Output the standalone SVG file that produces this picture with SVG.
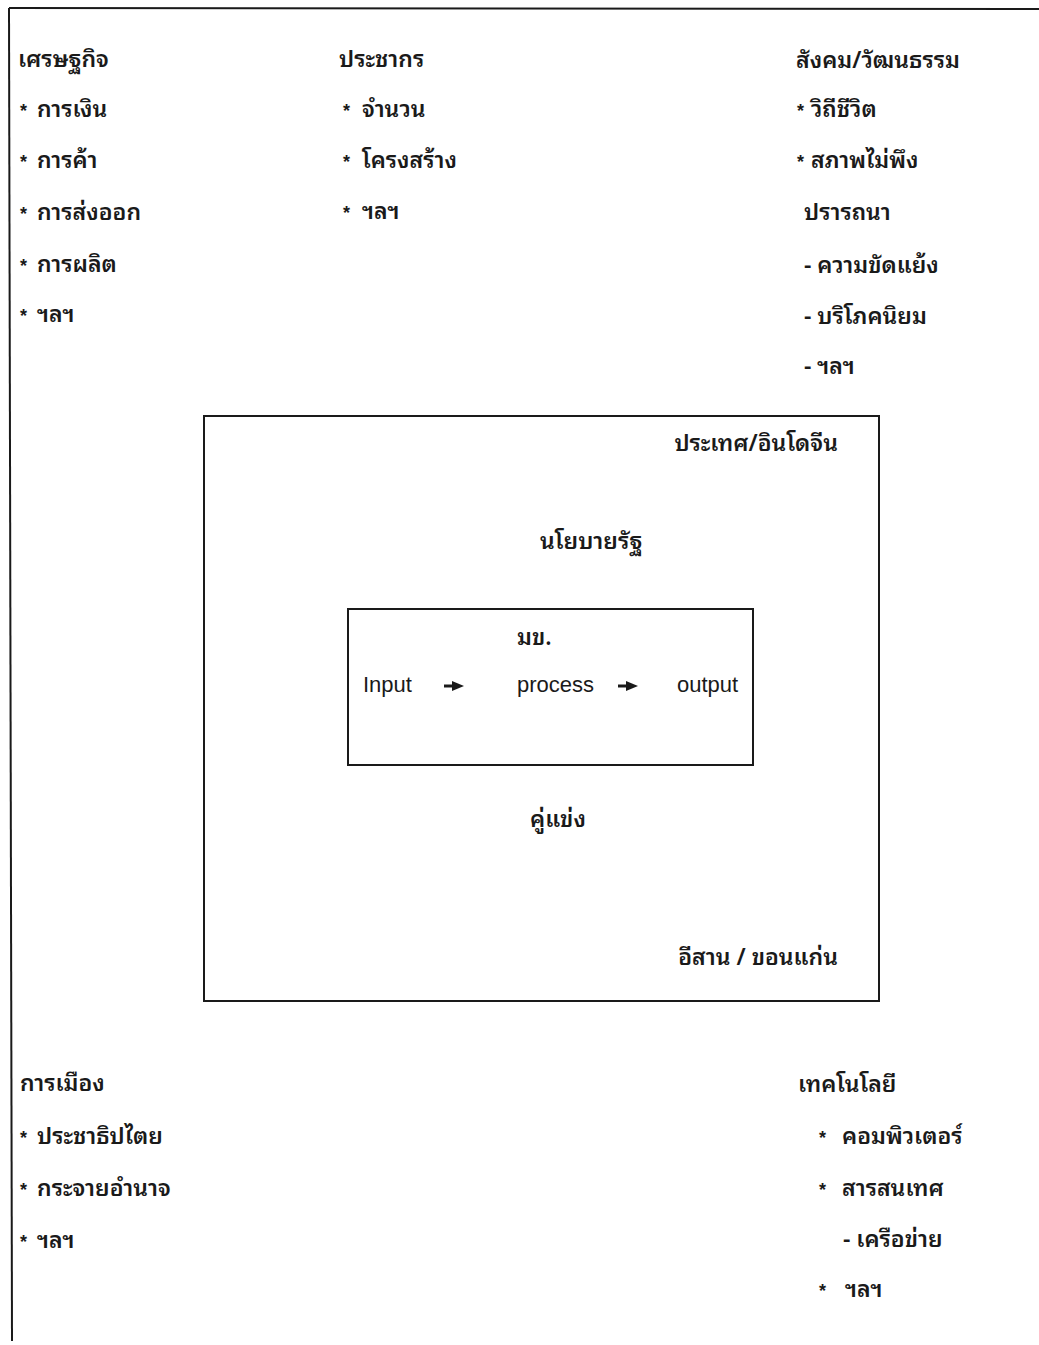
<svg xmlns="http://www.w3.org/2000/svg" width="1039" height="1345" viewBox="0 0 1039 1345">
<defs>
<style>
.t{font-family:"Noto Sans Thai Looped","Noto Serif Thai","Tlwg Typo","Garuda","Loma","Noto Sans Thai","Noto Sans",sans-serif;font-size:23px;font-weight:600;fill:#1a1a1a}
.b{font-family:"Liberation Sans",sans-serif;font-size:18px;font-weight:bold;fill:#1a1a1a}
.e{font-family:"Liberation Sans",Arial,sans-serif;font-size:22px;fill:#1a1a1a}
.ln{stroke:#1a1a1a;stroke-width:2;fill:none}
.box{stroke:#1a1a1a;stroke-width:2;fill:none}
.ar{stroke:#1a1a1a;stroke-width:3;fill:none}
</style>
<marker id="ah" markerWidth="12" markerHeight="12" refX="1" refY="6" orient="auto" markerUnits="userSpaceOnUse">
<path d="M0,1 L12,6 L0,11 Z" fill="#1a1a1a"/>
</marker>
</defs>
<rect x="0" y="0" width="1039" height="1345" fill="#fff"/>
<g id="frame">
<line class="ln" x1="9" y1="8" x2="1039" y2="9"/>
<line class="ln" x1="9" y1="8" x2="12" y2="1341"/>
</g>
<g id="economy">
<text class="t" x="18" y="67">เศรษฐกิจ</text>
<text class="b" x="20" y="117">*</text><text class="t" x="37" y="117">การเงิน</text>
<text class="b" x="20" y="168">*</text><text class="t" x="37" y="168">การค้า</text>
<text class="b" x="20" y="220">*</text><text class="t" x="37" y="220">การส่งออก</text>
<text class="b" x="20" y="272">*</text><text class="t" x="37" y="272">การผลิต</text>
<text class="b" x="20" y="322">*</text><text class="t" x="37" y="322">ฯลฯ</text>
</g>
<g id="population">
<text class="t" x="339" y="67">ประชากร</text>
<text class="b" x="343" y="117">*</text><text class="t" x="362" y="117">จำนวน</text>
<text class="b" x="343" y="168">*</text><text class="t" x="362" y="168">โครงสร้าง</text>
<text class="b" x="343" y="219">*</text><text class="t" x="362" y="219">ฯลฯ</text>
</g>
<g id="society">
<text class="t" x="796" y="68">สังคม/วัฒนธรรม</text>
<text class="b" x="797" y="117">*</text><text class="t" x="811" y="117">วิถีชีวิต</text>
<text class="b" x="797" y="168">*</text><text class="t" x="811" y="168">สภาพไม่พึง</text>
<text class="t" x="804" y="220">ปรารถนา</text>
<text class="t" x="804" y="273">- ความขัดแย้ง</text>
<text class="t" x="804" y="324">- บริโภคนิยม</text>
<text class="t" x="804" y="374">- ฯลฯ</text>
</g>
<g id="country-box">
<rect class="box" x="204" y="416" width="675" height="585"/>
<text class="t" x="838" y="451" text-anchor="end">ประเทศ/อินโดจีน</text>
<text class="t" x="540" y="549">นโยบายรัฐ</text>
<text class="t" x="530" y="827">คู่แข่ง</text>
<text class="t" x="838" y="965" text-anchor="end">อีสาน / ขอนแก่น</text>
</g>
<g id="university-box">
<rect class="box" x="348" y="609" width="405" height="156"/>
<text class="t" x="517" y="645">มข.</text>
<text class="e" x="363" y="692">Input</text>
<text class="e" x="517" y="692">process</text>
<text class="e" x="677" y="692">output</text>
</g>
<g id="connectors">
<line class="ar" x1="444" y1="686" x2="453" y2="686" marker-end="url(#ah)"/>
<line class="ar" x1="618" y1="686" x2="627" y2="686" marker-end="url(#ah)"/>
</g>
<g id="politics">
<text class="t" x="20" y="1091">การเมือง</text>
<text class="b" x="20" y="1144">*</text><text class="t" x="37" y="1144">ประชาธิปไตย</text>
<text class="b" x="20" y="1196">*</text><text class="t" x="37" y="1196">กระจายอำนาจ</text>
<text class="b" x="20" y="1248">*</text><text class="t" x="37" y="1248">ฯลฯ</text>
</g>
<g id="technology">
<text class="t" x="798" y="1092">เทคโนโลยี</text>
<text class="b" x="819" y="1144">*</text><text class="t" x="842" y="1144">คอมพิวเตอร์</text>
<text class="b" x="819" y="1196">*</text><text class="t" x="842" y="1196">สารสนเทศ</text>
<text class="t" x="843" y="1247">- เครือข่าย</text>
<text class="b" x="819" y="1297">*</text><text class="t" x="845" y="1297">ฯลฯ</text>
</g>
</svg>
